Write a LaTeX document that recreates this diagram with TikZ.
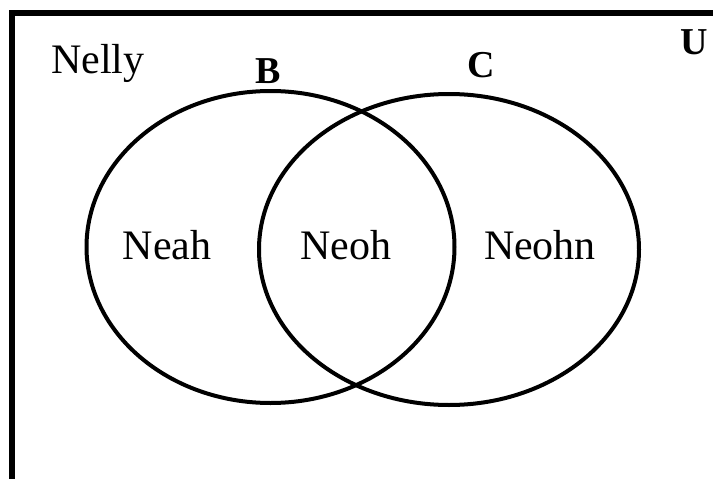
\documentclass[tikz,border=0pt]{standalone}
\usepackage{fontspec}
\setmainfont{Liberation Serif}
\tikzset{
  lbl/.style={font=\fontsize{42}{48}\selectfont, anchor=base, inner sep=0pt},
  setlbl/.style={font=\bfseries\fontsize{38}{44}\selectfont, anchor=base, inner sep=0pt},
  setline/.style={line width=4pt},
}
\begin{document}
\begin{tikzpicture}[x=1pt,y=-1pt]
\clip (0,0) rectangle (713,479);
\fill[white] (0,0) rectangle (713,479);
\draw[line width=5.5pt] (12,13) rectangle (740,500);
\draw[setline] (270.5,247) ellipse [x radius=184, y radius=156];
\draw[setline] (449,249.5) ellipse [x radius=190, y radius=155.5];
\node[lbl] (nelly) at (98,73) {Nelly};
\node[lbl] (neah) at (167,259) {Neah};
\node[lbl] (neoh) at (346,259) {Neoh};
\node[lbl] (neohn) at (540,259) {Neohn};
\node[setlbl] (b) at (268,83) {B};
\node[setlbl] (c) at (481,77) {C};
\node[setlbl] (u) at (694,54) {U};
\end{tikzpicture}
\end{document}
